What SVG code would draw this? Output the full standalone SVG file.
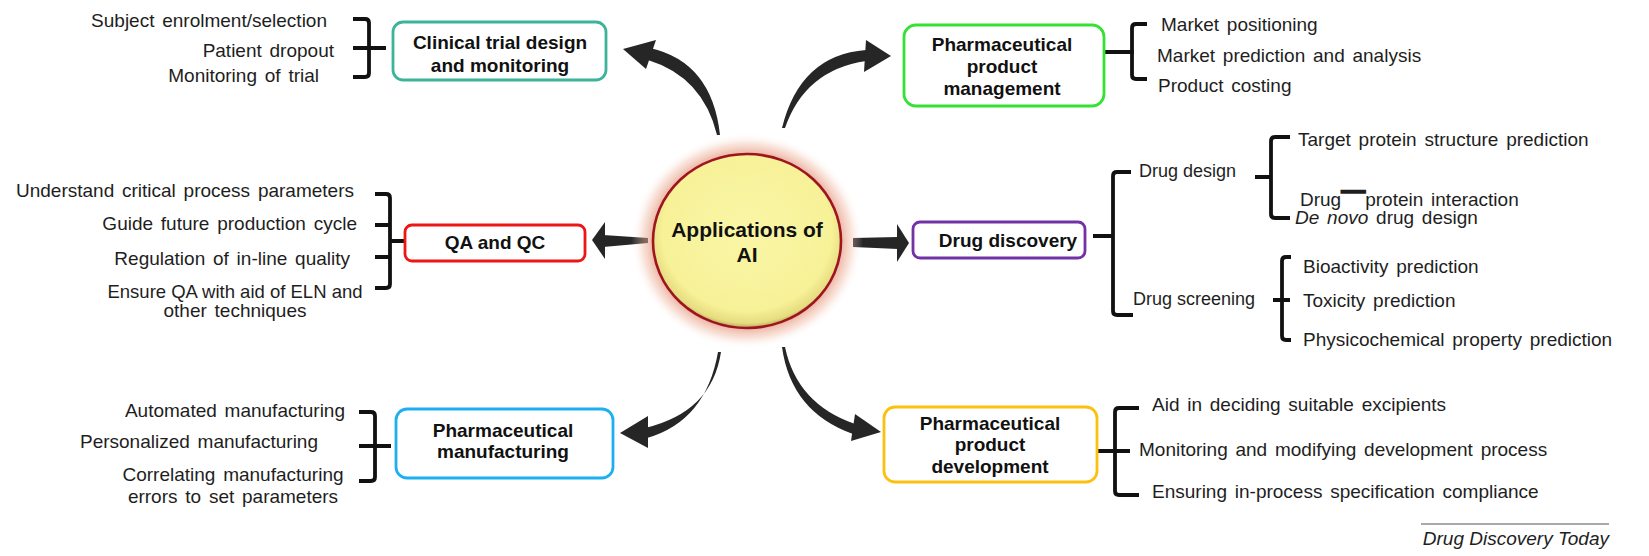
<svg xmlns="http://www.w3.org/2000/svg" width="1649" height="556" viewBox="0 0 1649 556">
<defs>
  <radialGradient id="halo" cx="0.5" cy="0.5" r="0.5">
    <stop offset="0.78" stop-color="#e08a70" stop-opacity="0.8"/>
    <stop offset="0.9" stop-color="#f0b8a0" stop-opacity="0.4"/>
    <stop offset="1" stop-color="#ffffff" stop-opacity="0"/>
  </radialGradient>
  <radialGradient id="ball" cx="0.5" cy="0.45" r="0.55">
    <stop offset="0" stop-color="#faf6a6"/>
    <stop offset="0.82" stop-color="#f7f198"/>
    <stop offset="0.95" stop-color="#e6dc80"/>
    <stop offset="1" stop-color="#b8a858"/>
  </radialGradient>
</defs>
<style>
  text { font-family: "Liberation Sans", Arial, sans-serif; fill: #1e1e1e; }
  .it { font-size: 19px; word-spacing: 2.5px; }
  .sm { font-size: 18px; }
  .lb { font-size: 19px; font-weight: bold; text-anchor: middle; fill: #111; }
  .e { text-anchor: end; }
  .m { text-anchor: middle; }
  .box { fill: #fff; stroke-width: 2.8; }
  .br { fill: none; stroke: #111; stroke-width: 3.8; }
  .arr { fill: #262626; }
</style>
<rect width="1649" height="556" fill="#fff"/>

<g id="connectors">
  <!-- top-left arrow -->
  <path class="arr" d="M650,48 Q712,62 720,135 L717,135 Q703,77 648,60 Z"/>
  <polygon class="arr" points="623,49 656,40 646,69"/>
  <!-- top-right arrow -->
  <path class="arr" d="M866,50 Q800,55 782,128 L785,128 Q805,70 866,61 Z"/>
  <polygon class="arr" points="891,56 866,40 864,72"/>
  <!-- left arrow -->
  <path class="arr" d="M603,235 L648,238 L648,243 L603,247 Z"/>
  <polygon class="arr" points="592,240 605,222 605,259"/>
  <!-- right arrow -->
  <path class="arr" d="M853,238 L898,237 L898,249 L853,247 Z"/>
  <polygon class="arr" points="909,243 897,224 897,262"/>
  <!-- bottom-left arrow -->
  <path class="arr" d="M645,428 Q712,412 721,352 L718,352 Q706,421 647,438 Z"/>
  <polygon class="arr" points="620,433 648,416 648,448"/>
  <!-- bottom-right arrow -->
  <path class="arr" d="M785,347 Q797,404 855,424 L853,434 Q791,412 782,347 Z"/>
  <polygon class="arr" points="881,432 855,414 851,441"/>

  <!-- braces -->
  <path class="br" d="M353,19 H365 Q369,19 369,23 V73 Q369,77 365,77 H353 M353,48 H386"/>
  <path class="br" d="M1104,52 H1134 M1147,24 H1136 Q1132,24 1132,28 V75 Q1132,79 1136,79 H1147"/>
  <path class="br" d="M375,194 H386 Q390,194 390,198 V284 Q390,288 386,288 H375 M375,225 H390 M375,257 H390 M390,241 H405"/>
  <path class="br" d="M359,412 H371 Q375,412 375,416 V477 Q375,481 371,481 H359 M359,446 H391"/>
  <path class="br" d="M1093,236 H1113 M1131,172 H1117 Q1113,172 1113,176 V311 Q1113,315 1117,315 H1133"/>
  <path class="br" d="M1255,177 H1271 M1290,137 H1275 Q1271,137 1271,141 V214 Q1271,218 1275,218 H1290"/>
  <path class="br" d="M1273,300 H1290 M1291,257 H1286 Q1282,257 1282,261 V336 Q1282,340 1286,340 H1291"/>
  <path class="br" d="M1096,451 H1130 M1139,408 H1119 Q1115,408 1115,412 V491 Q1115,495 1119,495 H1139"/>
</g>

<g id="center">
  <ellipse cx="747" cy="241" rx="116" ry="108" fill="url(#halo)"/>
  <ellipse cx="747" cy="241" rx="94" ry="87" fill="url(#ball)" stroke="#9e1420" stroke-width="2.6"/>
  <text x="747" y="237" class="m" style="font-size:21px;font-weight:bold;fill:#111">Applications of</text>
  <text x="747" y="262" class="m" style="font-size:21px;font-weight:bold;fill:#111">AI</text>
</g>

<g id="clinical">
  <rect class="box" x="393" y="22" width="213" height="58" rx="10" stroke="#3cb49c"/>
  <text x="500" y="49" class="lb">Clinical trial design</text>
  <text x="500" y="72" class="lb">and monitoring</text>
  <text x="327" y="27" class="it e">Subject enrolment/selection</text>
  <text x="334" y="57" class="it e">Patient dropout</text>
  <text x="319" y="82" class="it e">Monitoring of trial</text>
</g>

<g id="management">
  <rect class="box" x="904" y="25" width="200" height="81" rx="12" stroke="#33e233"/>
  <text x="1002" y="51" class="lb">Pharmaceutical</text>
  <text x="1002" y="73" class="lb">product</text>
  <text x="1002" y="95" class="lb">management</text>
  <text x="1161" y="31" class="it">Market positioning</text>
  <text x="1157" y="62" class="it">Market prediction and analysis</text>
  <text x="1158" y="92" class="it">Product costing</text>
</g>

<g id="qaqc">
  <rect class="box" x="405" y="225" width="180" height="36" rx="7" stroke="#ee1515"/>
  <text x="495" y="249" class="lb">QA and QC</text>
  <text x="354" y="197" class="it e">Understand critical process parameters</text>
  <text x="357" y="230" class="it e">Guide future production cycle</text>
  <text x="350" y="265" class="it e">Regulation of in-line quality</text>
  <text x="235" y="298" class="m" style="font-size:18.5px">Ensure QA with aid of ELN and</text>
  <text x="235" y="317" class="it m">other techniques</text>
</g>

<g id="discovery">
  <rect class="box" x="913" y="222" width="172" height="36" rx="7" stroke="#7232a6"/>
  <text x="1008" y="247" class="lb">Drug discovery</text>
  <text x="1139" y="177" class="sm">Drug design</text>
  <text x="1133" y="305" class="sm">Drug screening</text>
  <text x="1298" y="146" class="it">Target protein structure prediction</text>
  <text x="1300" y="206" class="it">Drug<tspan dy="-8" style="font-weight:bold;font-size:24px;stroke:#1e1e1e;stroke-width:1.6">—</tspan><tspan dy="8">protein interaction</tspan></text>
  <text x="1295" y="224" class="it"><tspan font-style="italic">De novo</tspan> drug design</text>
  <text x="1303" y="273" class="it">Bioactivity prediction</text>
  <text x="1303" y="307" class="it">Toxicity prediction</text>
  <text x="1303" y="346" class="it">Physicochemical property prediction</text>
</g>

<g id="manufacturing">
  <rect class="box" x="396" y="409" width="217" height="69" rx="11" stroke="#1eaff0"/>
  <text x="503" y="437" class="lb">Pharmaceutical</text>
  <text x="503" y="458" class="lb">manufacturing</text>
  <text x="345" y="417" class="it e">Automated manufacturing</text>
  <text x="318" y="448" class="it e">Personalized manufacturing</text>
  <text x="233" y="481" class="it m">Correlating manufacturing</text>
  <text x="233" y="503" class="it m">errors to set parameters</text>
</g>

<g id="development">
  <rect class="box" x="884" y="407" width="213" height="75" rx="11" stroke="#fcc010"/>
  <text x="990" y="430" class="lb">Pharmaceutical</text>
  <text x="990" y="451" class="lb">product</text>
  <text x="990" y="473" class="lb">development</text>
  <text x="1152" y="411" class="it">Aid in deciding suitable excipients</text>
  <text x="1139" y="456" class="it">Monitoring and modifying development process</text>
  <text x="1152" y="498" class="it">Ensuring in-process specification compliance</text>
</g>

<g id="footer">
  <line x1="1421" y1="524" x2="1609" y2="524" stroke="#555" stroke-width="1"/>
  <text x="1609" y="545" class="e" style="font-size:19px;font-style:italic">Drug Discovery Today</text>
</g>
</svg>
